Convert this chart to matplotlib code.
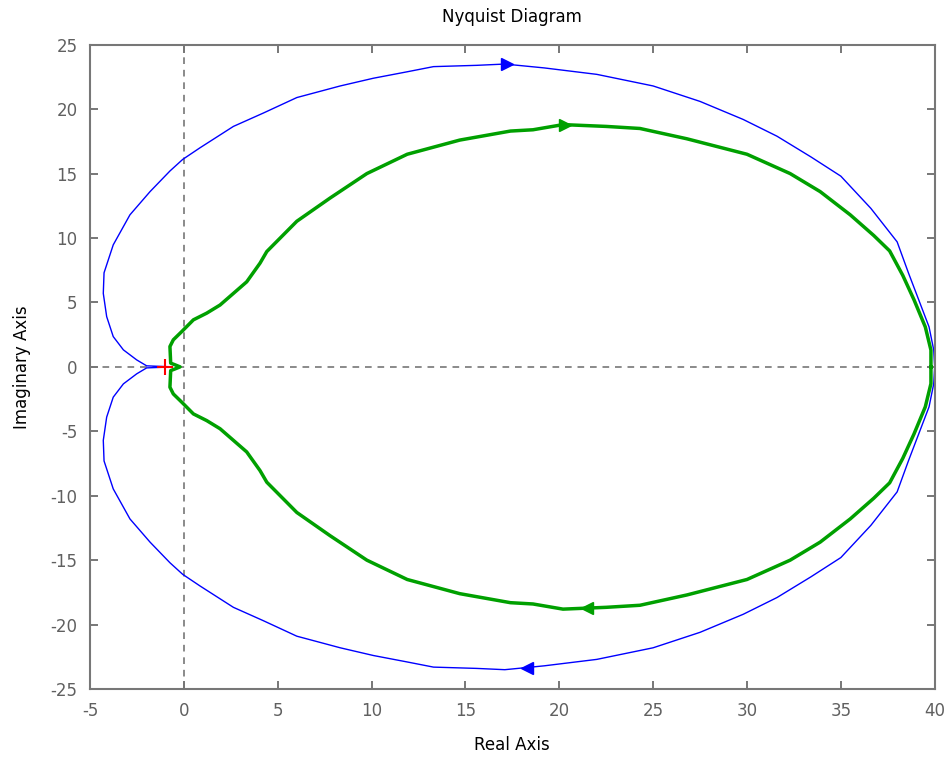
import numpy as np
import matplotlib.pyplot as plt

plt.rcParams['axes.unicode_minus'] = False

# upper half of each Nyquist curve (lower half is the complex conjugate)
blue_re = [-0.6, -1.98, -2.51, -3.22, -3.76, -4.11, -4.29, -4.25, -3.76, -2.87, -1.80,
           -0.74, -0.06, 0.86, 2.64, 4.24, 6.02, 8.33, 10.1, 11.9, 13.3, 15.6, 17.1,
           19.2, 22.0, 25.0, 27.5, 29.8, 31.6, 33.4, 35.0, 36.6, 38.0, 38.6, 39.15,
           39.7, 39.95, 40.0]
blue_im = [0.0, 0.08, 0.54, 1.32, 2.35, 3.9, 5.7, 7.3, 9.47, 11.8, 13.6,
           15.2, 16.1, 17.0, 18.66, 19.7, 20.9, 21.8, 22.4, 22.9, 23.3, 23.4, 23.5,
           23.2, 22.7, 21.8, 20.6, 19.2, 17.9, 16.3, 14.8, 12.3, 9.7, 7.3, 5.2,
           3.1, 1.3, 0.0]

green_re = [-0.2, -0.47, -0.70, -0.74, -0.56, -0.11, 0.51, 1.22, 1.93, 2.64, 3.35,
            4.06, 4.42, 6.02, 7.79, 9.75, 11.9, 14.7, 17.4, 18.6, 20.2, 22.5, 24.3,
            26.8, 30.0, 32.3, 33.9, 35.5, 36.75, 37.6, 38.3, 38.9, 39.5, 39.8, 39.8]
green_im = [0.0, 0.16, 0.29, 1.58, 2.1, 2.74, 3.65, 4.17, 4.8, 5.7, 6.6,
            8.05, 8.95, 11.3, 13.1, 15.0, 16.5, 17.6, 18.3, 18.4, 18.8, 18.66, 18.5,
            17.7, 16.5, 15.0, 13.6, 11.8, 10.2, 9.0, 7.1, 5.2, 3.1, 1.3, 0.0]

# arrow positions (re, im, direction)
blue_arrows = [(17.2, 23.5, '>'), (18.3, -23.4, '<')]
green_arrows = [(20.3, 18.8, '>'), (21.5, -18.7, '<')]

critical_point = (-1, 0)

grey = '#606060'


def full_curve(re, im):
    re = np.array(re)
    im = np.array(im)
    return np.concatenate([re[::-1], re]), np.concatenate([-im[::-1], im])


fig = plt.figure(figsize=(9.47, 7.58), dpi=100)
ax = fig.add_axes([0.095, 0.091, 0.892, 0.850])

ax.axhline(0, color='#777777', ls=(0, (4, 3.5)), lw=1.2)
ax.axvline(0, color='#777777', ls=(0, (4, 3.5)), lw=1.2)

bx, by = full_curve(blue_re, blue_im)
ax.plot(bx, by, color='#0000ff', lw=1.0)
gx, gy = full_curve(green_re, green_im)
ax.plot(gx, gy, color='#00a000', lw=2.5)

for x, y, m in blue_arrows:
    ax.plot(x, y, marker=m, color='#0000ff', markersize=9)
for x, y, m in green_arrows:
    ax.plot(x, y, marker=m, color='#00a000', markersize=9)

ax.plot(*critical_point, marker='+', color='red', markersize=12, mew=1.5)

ax.set_xlim(-5, 40)
ax.set_ylim(-25, 25)
ax.set_xticks(np.arange(-5, 41, 5))
ax.set_yticks(np.arange(-25, 26, 5))
ax.tick_params(direction='in', top=True, right=True, colors=grey,
               labelsize=12, length=6, width=1.2, pad=9)
for s in ax.spines.values():
    s.set_color('#777777')
    s.set_linewidth(1.5)

ax.set_title('Nyquist Diagram', fontsize=12, pad=16)
ax.set_xlabel('Real Axis', fontsize=12, labelpad=12)
ax.set_ylabel('Imaginary Axis', fontsize=12, labelpad=14)

fig.savefig('out.png', dpi=100)
